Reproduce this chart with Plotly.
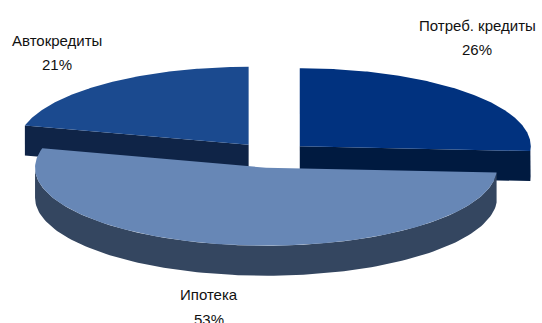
import numpy as np
import plotly.graph_objects as go

# Loan portfolio structure
categories = ["Потреб. кредиты", "Ипотека", "Автокредиты"]
shares = [26, 53, 21]

top_colors = ["#01327f", "#6787b6", "#1b4a8f"]
side_colors = ["#001a40", "#344660", "#0f2447"]

W, H = 542, 323
CX, CY = 272, 155          # pie centre before explosion
RX, RY = 231, 78           # ellipse half-axes of the tilted disc
DEPTH = 30                 # thickness of the disc
EXPLODE = 0.165            # radial offset of every slice, in radii


def project(u, v, cx, cy, dz=0.0):
    """Plane coords (u right, v back) -> screen coords (y grows downward)."""
    return cx + u * RX, cy - v * RY + dz


fig = go.Figure()

total = float(sum(shares))
bounds = np.cumsum([0] + shares) / total * 360.0
slices = []
for i, name in enumerate(categories):
    a0, a1 = bounds[i], bounds[i + 1]
    mid = np.radians((a0 + a1) / 2)
    ox, oy = project(EXPLODE * np.sin(mid), EXPLODE * np.cos(mid), CX, CY)
    slices.append(dict(i=i, a0=a0, a1=a1, cx=ox, cy=oy, mid=mid))


def add_poly(xs, ys, color):
    fig.add_trace(go.Scatter(
        x=list(xs), y=list(ys), mode="lines", fill="toself",
        fillcolor=color, line=dict(width=0, color=color),
        hoverinfo="skip", showlegend=False))


# paint from back to front: slices whose bisector points further back first
order = sorted(slices, key=lambda s: -np.cos(s["mid"]))
for s in order:
    i, a0, a1, cx, cy = s["i"], s["a0"], s["a1"], s["cx"], s["cy"]

    # radial cut faces that look toward the viewer
    for ang, sign in ((a0, -1), (a1, 1)):
        t = np.radians(ang)
        if sign * np.sin(t) > 1e-6:
            ex, ey = project(np.sin(t), np.cos(t), cx, cy)
            add_poly([cx, ex, ex, cx], [cy, ey, ey + DEPTH, cy + DEPTH],
                     side_colors[i])

    # curved outer wall on the front half of the disc
    lo, hi = max(a0, 90.0), min(a1, 270.0)
    if hi > lo:
        t = np.radians(np.linspace(lo, hi, 120))
        tx, ty = project(np.sin(t), np.cos(t), cx, cy)
        add_poly(np.concatenate([tx, tx[::-1]]),
                 np.concatenate([ty, ty[::-1] + DEPTH]), side_colors[i])

    # top face
    t = np.radians(np.linspace(a0, a1, 200))
    tx, ty = project(np.sin(t), np.cos(t), cx, cy)
    add_poly(np.concatenate([[cx], tx, [cx]]),
             np.concatenate([[cy], ty, [cy]]), top_colors[i])

# category labels: name on one line, percentage below it
label_font = dict(family="Liberation Sans Narrow, Arial Narrow, Liberation Sans, Arial",
                  size=15, color="#111111")
label_pos = [(477, 25, 49), (209, 294, 319), (57, 40, 64)]
for name, val, (lx, ly_name, ly_pct) in zip(categories, shares, label_pos):
    pct = round(val / total * 100)
    fig.add_annotation(x=lx, y=ly_name, xref="x", yref="y", showarrow=False,
                       text=name, font=label_font)
    fig.add_annotation(x=lx, y=ly_pct, xref="x", yref="y", showarrow=False,
                       text=f"{pct}%", font=label_font)

fig.update_layout(
    width=W, height=H,
    margin=dict(l=0, r=0, t=0, b=0),
    paper_bgcolor="white", plot_bgcolor="white",
    xaxis=dict(range=[0, W], visible=False, fixedrange=True),
    yaxis=dict(range=[H, 0], visible=False, fixedrange=True),
)

fig.write_html("out.html")
